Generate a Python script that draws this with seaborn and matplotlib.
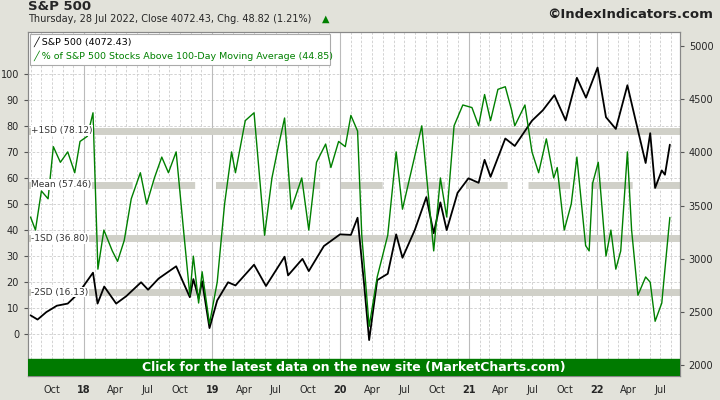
import pandas as pd
import numpy as np
import matplotlib.pyplot as plt
import matplotlib.dates as mdates
from matplotlib.patches import Rectangle
import seaborn as sns

# S&P 500 close (approximate)
spx_dates = ["2017-08-01", "2017-08-21", "2017-09-15", "2017-10-15", "2017-11-15", "2017-12-15",
             "2018-01-26", "2018-02-08", "2018-02-27", "2018-04-02", "2018-05-01", "2018-06-12",
             "2018-07-02", "2018-08-01", "2018-09-20", "2018-10-10", "2018-10-29", "2018-11-08",
             "2018-11-23", "2018-12-03", "2018-12-24", "2019-01-15", "2019-02-15", "2019-03-08",
             "2019-04-30", "2019-06-03", "2019-07-26", "2019-08-05", "2019-09-15", "2019-10-03",
             "2019-11-15", "2019-12-31", "2020-01-31", "2020-02-19", "2020-03-09", "2020-03-23",
             "2020-04-15", "2020-05-15", "2020-06-08", "2020-06-26", "2020-07-31", "2020-09-02",
             "2020-09-23", "2020-10-12", "2020-10-30", "2020-11-30", "2020-12-31", "2021-01-29",
             "2021-02-15", "2021-03-04", "2021-04-15", "2021-05-12", "2021-06-30", "2021-07-31",
             "2021-09-02", "2021-10-04", "2021-11-05", "2021-12-01", "2022-01-03", "2022-01-27",
             "2022-02-24", "2022-03-29", "2022-04-15", "2022-05-20", "2022-06-02", "2022-06-16",
             "2022-07-05", "2022-07-14", "2022-07-28"]
spx_close = [2470, 2430, 2500, 2560, 2580, 2675,
             2870, 2580, 2740, 2580, 2650, 2780,
             2710, 2815, 2930, 2780, 2640, 2810,
             2630, 2790, 2350, 2610, 2780, 2750,
             2945, 2745, 3020, 2845, 3000, 2885,
             3120, 3230, 3225, 3386, 2750, 2237,
             2800, 2860, 3230, 3010, 3270, 3580,
             3240, 3530, 3270, 3620, 3756, 3714,
             3930, 3770, 4130, 4060, 4297, 4395,
             4537, 4300, 4700, 4513, 4796, 4330,
             4220, 4630, 4390, 3900, 4180, 3666,
             3830, 3790, 4072]

# % of S&P 500 stocks above 100-day MA (approximate)
br_dates = ["2017-08-01", "2017-08-15", "2017-09-01", "2017-09-20", "2017-10-05", "2017-10-25",
            "2017-11-15", "2017-12-05", "2017-12-20", "2018-01-10", "2018-01-26", "2018-02-09",
            "2018-02-26", "2018-03-22", "2018-04-06", "2018-04-25", "2018-05-15", "2018-06-10",
            "2018-06-28", "2018-07-20", "2018-08-10", "2018-08-29", "2018-09-20", "2018-10-11",
            "2018-10-29", "2018-11-08", "2018-11-23", "2018-12-03", "2018-12-24", "2019-01-15",
            "2019-02-05", "2019-02-25", "2019-03-08", "2019-04-05", "2019-04-30", "2019-05-30",
            "2019-06-20", "2019-07-05", "2019-07-26", "2019-08-14", "2019-09-13", "2019-10-03",
            "2019-10-25", "2019-11-20", "2019-12-05", "2019-12-27", "2020-01-15", "2020-01-31",
            "2020-02-19", "2020-03-02", "2020-03-23", "2020-04-15", "2020-05-15", "2020-06-08",
            "2020-06-26", "2020-07-20", "2020-08-20", "2020-09-23", "2020-10-12", "2020-10-30",
            "2020-11-20", "2020-12-15", "2021-01-10", "2021-01-29", "2021-02-15", "2021-03-04",
            "2021-03-25", "2021-04-15", "2021-05-03", "2021-05-12", "2021-06-10", "2021-06-30",
            "2021-07-19", "2021-08-10", "2021-08-31", "2021-09-10", "2021-09-30", "2021-10-20",
            "2021-11-05", "2021-11-30", "2021-12-10", "2021-12-20", "2022-01-05", "2022-01-27",
            "2022-02-10", "2022-02-24", "2022-03-10", "2022-03-29", "2022-04-10", "2022-04-28",
            "2022-05-20", "2022-06-02", "2022-06-16", "2022-07-05", "2022-07-14", "2022-07-28"]
br_pct = [45, 40, 55, 52, 72, 66,
          70, 62, 74, 76, 85, 25,
          40, 32, 28, 36, 52, 62,
          50, 60, 68, 62, 70, 40,
          15, 30, 12, 24, 4, 20,
          50, 70, 62, 82, 85, 38,
          60, 70, 83, 48, 60, 40,
          66, 73, 64, 74, 72, 84,
          78, 38, 3, 22, 38, 70,
          48, 62, 80, 32, 60, 45,
          80, 88, 87, 80, 92, 82,
          94, 95, 86, 80, 88, 70,
          62, 75, 60, 64, 40, 50,
          68, 34, 32, 58, 66, 30,
          40, 25, 32, 70, 40, 15,
          22, 20, 5, 12, 25, 44.85]

bands = [78.12, 57.46, 36.80, 16.13]
band_labels = ["+1SD (78.12)", "Mean (57.46)", "-1SD (36.80)", "-2SD (16.13)"]

spx = pd.DataFrame({"date": pd.to_datetime(spx_dates), "close": spx_close})
br = pd.DataFrame({"date": pd.to_datetime(br_dates), "pct": br_pct})

sns.set_style("white")
plt.rcParams['font.family'] = ['DejaVu Sans']

fig = plt.figure(figsize=(7.2, 4.0), dpi=100, facecolor="#e2e2da")
ax = fig.add_axes([0.039, 0.06, 0.905, 0.86])
ax2 = ax.twinx()
ax.set_zorder(ax2.get_zorder() + 1)
ax.patch.set_visible(False)
ax2.patch.set_visible(True)
ax2.patch.set_facecolor("white")

x0, x1 = pd.Timestamp("2017-07-25"), pd.Timestamp("2022-08-25")
ax.set_xlim(x0, x1)
ax.set_ylim(-16, 116)
ax2.set_ylim(1900, 5130)

# grid and bands go on the lower axes (in left-axis units) so both lines sit on top
tr = ax.transData
for m in pd.date_range("2017-08-01", "2022-08-01", freq="MS"):
    ax2.plot([m, m], [-16, 116], transform=tr, color="#cccccc", lw=0.6, ls=(0, (3, 2)), zorder=0)
for yv in range(0, 101, 10):
    ax2.plot([x0, x1], [yv, yv], transform=tr, color="#cccccc", lw=0.6, ls=(0, (3, 2)), zorder=0)
for yr in range(2018, 2023):
    d = pd.Timestamp(f"{yr}-01-01")
    ax2.plot([d, d], [-16, 116], transform=tr, color="#bbbbbb", lw=0.8, zorder=0)
for v, lab in zip(bands, band_labels):
    ls = (0, (6, 3)) if lab.startswith("Mean") else "-"
    ax2.plot([x0, x1], [v, v], transform=tr, color="#d0d0c8", lw=5, ls=ls, zorder=0.5)
    ax.text(pd.Timestamp("2017-08-03"), v, lab, fontsize=6.5, color="#333333", va="center",
            bbox=dict(facecolor="white", edgecolor="none", pad=0.5), zorder=5)

sns.lineplot(data=spx, x="date", y="close", ax=ax2, color="black", lw=1.3, legend=False, zorder=2)
sns.lineplot(data=br, x="date", y="pct", ax=ax, color="#008000", lw=1.0, legend=False, zorder=3)

ax.set_xlim(x0, x1)
ax.set_ylim(-16, 116)
ax2.set_ylim(1900, 5130)
ax.set_yticks(range(0, 101, 10))
ax2.set_yticks(range(2000, 5001, 500))
ax.set_xlabel("")
ax.set_ylabel("")
ax2.set_ylabel("")
for a in (ax, ax2):
    a.tick_params(labelsize=7, length=3, color="#555555")
    for s in a.spines.values():
        s.set_color("#888888")

ax.xaxis.set_major_locator(mdates.MonthLocator(bymonth=[1, 4, 7, 10]))
def fmt(x, pos):
    d = mdates.num2date(x)
    return d.strftime("%y") if d.month == 1 else d.strftime("%b")
ax.xaxis.set_major_formatter(plt.FuncFormatter(fmt))
ax.xaxis.set_minor_locator(mdates.MonthLocator())
ax.tick_params(axis="x", which="minor", length=2)
fig.canvas.draw()
for t in ax.get_xticklabels():
    if t.get_text().isdigit():
        t.set_fontweight("bold")

# banner
ax.add_patch(Rectangle((0, 0), 1, 0.048, transform=ax.transAxes, color="#007a00", zorder=6))
ax.text(0.5, 0.024, "Click for the latest data on the new site (MarketCharts.com)",
        transform=ax.transAxes, ha="center", va="center", color="white",
        fontsize=9, fontweight="bold", zorder=7)

# legend box
ax.add_patch(Rectangle((0.003, 0.905), 0.46, 0.09, transform=ax.transAxes,
                       facecolor="white", edgecolor="#aaaaaa", lw=0.8, zorder=8))
ax.text(0.008, 0.973, "\u2571 S&P 500 (4072.43)", transform=ax.transAxes, fontsize=6.8,
        va="center", color="black", zorder=9)
ax.text(0.008, 0.93, "\u2571 % of S&P 500 Stocks Above 100-Day Moving Average (44.85)",
        transform=ax.transAxes, fontsize=6.8, va="center", color="#008000", zorder=9)

fig.text(0.039, 0.985, "S&P 500", fontsize=9.5, fontweight="bold", va="center")
fig.text(0.039, 0.952, "Thursday, 28 Jul 2022, Close 4072.43, Chg. 48.82 (1.21%)",
         fontsize=7, va="center")
fig.text(0.447, 0.952, "\u25b2", fontsize=7, va="center", color="#008000")
fig.text(0.99, 0.965, "\u00a9IndexIndicators.com", fontsize=9.5, fontweight="bold",
         ha="right", va="center", color="#222222")

fig.savefig("out.png", dpi=100, facecolor=fig.get_facecolor())
